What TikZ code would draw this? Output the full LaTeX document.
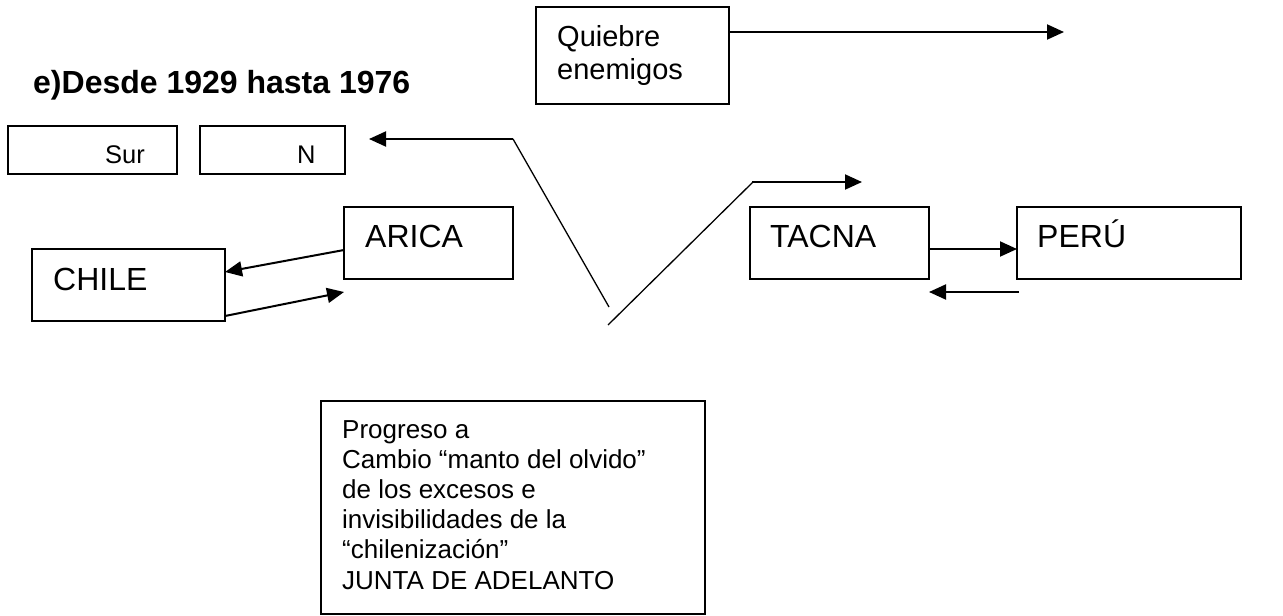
\documentclass[tikz,border=0pt]{standalone}
\usepackage{fontspec}
\setmainfont{Liberation Sans}
\usetikzlibrary{arrows.meta}
\tikzset{
  box/.style={draw, line width=1.5pt, inner sep=0pt, outer sep=0pt, anchor=north west},
  txt/.style={anchor=base west, inner sep=0pt},
  big/.style={font=\fontsize{32}{38}\selectfont},
  mid/.style={font=\fontsize{29}{33}\selectfont},
  small/.style={font=\fontsize{25.5}{30}\selectfont},
  body/.style={font=\fontsize{26}{30}\selectfont},
  arr/.style={line width=2pt, -{Triangle[length=17pt,width=15pt]}},
  thin/.style={line width=1.3pt}
}
\begin{document}
\begin{tikzpicture}[x=1pt,y=-1pt]
\useasboundingbox (0,0) rectangle (1283,616);
% title
\node[txt, font=\fontsize{32}{38}\selectfont\bfseries] (title) at (33,93) {e)Desde 1929 hasta 1976};
% boxes
\node[box, minimum width=193pt, minimum height=97pt] (quiebre) at (536,7) {};
\node[txt, mid] (q1) at (557,46) {Quiebre};
\node[txt, mid] (q2) at (557,79) {enemigos};
\node[box, minimum width=169pt, minimum height=48pt] (sur) at (8,126) {};
\node[txt, small] (surt) at (105,163) {Sur};
\node[box, minimum width=145pt, minimum height=48pt] (norte) at (200,126) {};
\node[txt, small] (nt) at (297,163) {N};
\node[box, minimum width=169pt, minimum height=72pt] (arica) at (344,207) {};
\node[txt, big] (aricat) at (365,247) {ARICA};
\node[box, minimum width=193pt, minimum height=72pt] (chile) at (32,249) {};
\node[txt, big] (chilet) at (53,290) {CHILE};
\node[box, minimum width=179pt, minimum height=72pt] (tacna) at (750,207) {};
\node[txt, big] (tacnat) at (770,247) {TACNA};
\node[box, minimum width=224pt, minimum height=72pt] (peru) at (1017,207) {};
\node[txt, big] (perut) at (1037,247) {PERÚ};
\node[box, minimum width=384pt, minimum height=213pt] (prog) at (321,401) {};
\foreach \t [count=\i from 0] in {{Progreso a},{Cambio “manto del olvido”},{de los excesos e},{invisibilidades de la},{“chilenización”},{JUNTA DE ADELANTO}}
  \node[txt, body] (p\i) at (342,438+30.2*\i) {\t};
% free ends
\coordinate (qend) at (1064,32);
\coordinate (nend) at (369,139);
\coordinate (k1) at (513,139);
\coordinate (v1) at (609,307);
\coordinate (v2) at (608,325);
\coordinate (k2) at (753,182);
\coordinate (tend) at (862,182);
% connectors
\draw[arr] ([yshift=23.5pt]quiebre.east) -- (qend);
\draw[thin] (v1) -- (k1);
\draw[arr] (k1) -- (nend);
\draw[thin] (v2) -- (k2);
\draw[arr] ([xshift=-1pt]k2) -- (tend);
\draw[arr] ([yshift=-7pt]arica.west) -- ([yshift=13pt]chile.east);
\draw[arr] ([yshift=5pt]chile.south east) -- ([yshift=-13pt]arica.south west);
\draw[arr] ([yshift=-6pt]tacna.east) -- ([yshift=-6pt]peru.west);
\draw[arr] ([yshift=-13pt,xshift=2pt]peru.south west) -- ([yshift=-13pt]tacna.south east);
\end{tikzpicture}
\end{document}
